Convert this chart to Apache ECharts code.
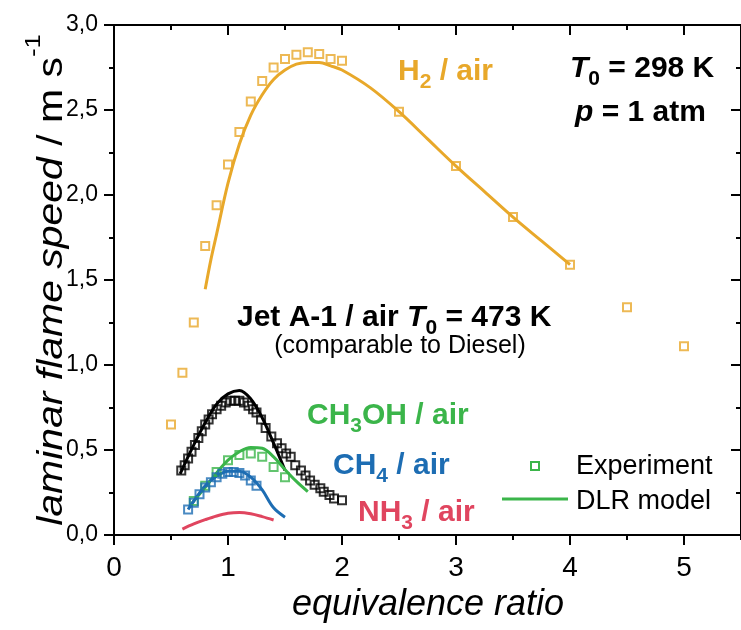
<!DOCTYPE html>
<html>
<head>
<meta charset="utf-8">
<script src="https://cdn.jsdelivr.net/npm/echarts@6/dist/echarts.min.js"></script>
<style>html,body{margin:0;padding:0;background:#fff}#c{width:741px;height:630px}</style>
</head>
<body>
<div id="c"></div>
<script>
// ---- data ----
const h2ExpPhi = [0.5, 0.6, 0.7, 0.8, 0.9, 1.0, 1.1, 1.2, 1.3, 1.4, 1.5, 1.6, 1.7, 1.8, 1.9, 2.0, 2.5, 3.0, 3.5, 4.0, 4.5, 5.0];
const h2ExpSl  = [0.65, 0.955, 1.25, 1.70, 1.94, 2.18, 2.37, 2.55, 2.67, 2.75, 2.80, 2.825, 2.84, 2.83, 2.80, 2.79, 2.49, 2.17, 1.87, 1.59, 1.34, 1.11];
const h2ModPhi = [0.8, 0.85, 0.9, 1.0, 1.1, 1.2, 1.3, 1.4, 1.5, 1.6, 1.7, 1.8, 1.9, 2.0, 2.25, 2.5, 2.75, 3.0, 3.25, 3.5, 3.75, 4.0];
const h2ModSl  = [1.445, 1.62, 1.77, 2.07, 2.30, 2.47, 2.59, 2.68, 2.735, 2.77, 2.78, 2.78, 2.76, 2.735, 2.63, 2.49, 2.33, 2.17, 2.02, 1.87, 1.73, 1.59];

const jetExpPhi = [0.59, 0.62, 0.65, 0.68, 0.71, 0.74, 0.77, 0.80, 0.83, 0.86, 0.90, 0.94, 0.98, 1.02, 1.06, 1.10, 1.14, 1.18, 1.22, 1.25, 1.29, 1.33, 1.38, 1.43, 1.47, 1.51, 1.55, 1.59, 1.64, 1.68, 1.72, 1.76, 1.81, 1.84, 1.89, 1.93, 2.00];
const jetExpSl  = [0.38, 0.41, 0.45, 0.49, 0.53, 0.57, 0.61, 0.65, 0.68, 0.71, 0.74, 0.76, 0.78, 0.79, 0.79, 0.79, 0.78, 0.76, 0.74, 0.72, 0.68, 0.63, 0.58, 0.54, 0.51, 0.48, 0.46, 0.41, 0.38, 0.35, 0.32, 0.295, 0.275, 0.255, 0.235, 0.215, 0.205];
const jetModPhi = [0.58, 0.7, 0.8, 0.9, 1.0, 1.1, 1.2, 1.3, 1.4, 1.5];
const jetModSl  = [0.36, 0.53, 0.66, 0.77, 0.83, 0.85, 0.80, 0.69, 0.54, 0.38];

const meohExpPhi = [0.7, 0.8, 0.9, 1.0, 1.1, 1.2, 1.3, 1.4, 1.5];
const meohExpSl  = [0.20, 0.29, 0.37, 0.44, 0.47, 0.48, 0.46, 0.40, 0.34];
const meohModPhi = [0.675, 0.8, 0.9, 1.0, 1.1, 1.2, 1.3, 1.4, 1.5, 1.6, 1.7];
const meohModSl  = [0.18, 0.28, 0.365, 0.44, 0.49, 0.515, 0.51, 0.46, 0.385, 0.315, 0.255];

const ch4ExpPhi = [0.65, 0.7, 0.75, 0.8, 0.85, 0.9, 0.95, 1.0, 1.05, 1.1, 1.15, 1.2, 1.25];
const ch4ExpSl  = [0.15, 0.19, 0.24, 0.28, 0.31, 0.34, 0.36, 0.37, 0.37, 0.365, 0.35, 0.32, 0.29];
const ch4ModPhi = [0.65, 0.7, 0.8, 0.9, 1.0, 1.1, 1.2, 1.3, 1.4, 1.5];
const ch4ModSl  = [0.15, 0.20, 0.29, 0.345, 0.375, 0.375, 0.34, 0.265, 0.16, 0.105];

const nh3ModPhi = [0.6, 0.7, 0.8, 0.9, 1.0, 1.1, 1.2, 1.3, 1.4];
const nh3ModSl  = [0.035, 0.065, 0.09, 0.112, 0.128, 0.133, 0.125, 0.108, 0.088];

const xMin = 0, xMax = 5.5, xMajor = 1, xMinor = 0.5;
const yMin = 0, yMax = 3, yMajor = 0.5;

// ---- styles ----
const FONT = "'Liberation Sans', Arial, Helvetica, sans-serif";
const ORANGE = '#E8A82A', GREEN = '#3BB54A', BLUE = '#1D6DB3', RED = '#E0455F', BLACK = '#000000';

const zip = (a, b) => a.map((v, i) => [v, b[i]]);

function expSeries(name, phi, sl, color) {
  return {
    name, type: 'scatter', xAxisIndex: 0, yAxisIndex: 0,
    data: zip(phi, sl), symbol: 'rect', symbolSize: 8,
    itemStyle: { color: 'rgba(255,255,255,0)', borderColor: color, borderWidth: 2 },
    emphasis: { disabled: true }, z: 3
  };
}
function modSeries(name, phi, sl, color) {
  return {
    name, type: 'line', xAxisIndex: 0, yAxisIndex: 0,
    data: zip(phi, sl), showSymbol: false, smooth: 0.35,
    lineStyle: { color, width: 3 }, itemStyle: { color },
    emphasis: { disabled: true }, z: 2
  };
}

function richSet(size, sub, weight) {
  const pad = Math.round(size * 0.5);
  return {
    b:  { fontFamily: FONT, fontSize: size, fontWeight: weight, lineHeight: size, verticalAlign: 'top' },
    bi: { fontFamily: FONT, fontSize: size, fontWeight: weight, fontStyle: 'italic', lineHeight: size, verticalAlign: 'top' },
    s:  { fontFamily: FONT, fontSize: sub, fontWeight: weight, lineHeight: sub, verticalAlign: 'top', padding: [pad, 0, 0, 0] }
  };
}
function label(x, y, text, color, opts) {
  opts = opts || {};
  return {
    type: 'text', x, y, z: 10,
    style: {
      text, fill: color, textAlign: opts.align || 'left', textVerticalAlign: 'middle',
      font: opts.font || ('bold 30px ' + FONT),
      rich: opts.rich || richSet(30, 21, 'bold')
    }
  };
}

const axisLineStyle = { color: BLACK, width: 2 };
const tickStyle = { color: BLACK, width: 2 };
const fmt = v => v.toFixed(1).replace('.', ',');

const option = {
  animation: false,
  backgroundColor: '#ffffff',
  grid: { left: 114, top: 25, width: 632.5, height: 510, containLabel: false },
  xAxis: [
    { type: 'value', position: 'bottom', min: xMin, max: xMax, interval: xMajor,
      axisLine: { show: true, onZero: false, lineStyle: axisLineStyle },
      axisTick: { show: true, inside: false, length: 10, lineStyle: tickStyle },
      axisLabel: { show: true, fontFamily: FONT, fontSize: 28, color: BLACK, margin: 19, showMaxLabel: false },
      splitLine: { show: false } },
    { type: 'value', position: 'bottom', min: xMin, max: xMax, interval: xMinor,
      axisLine: { show: false, onZero: false },
      axisTick: { show: true, inside: false, length: 5, lineStyle: tickStyle },
      axisLabel: { show: false }, splitLine: { show: false } },
    { type: 'value', position: 'top', min: xMin, max: xMax, interval: xMajor,
      axisLine: { show: true, onZero: false, lineStyle: axisLineStyle },
      axisTick: { show: true, inside: true, length: 10, lineStyle: tickStyle },
      axisLabel: { show: false }, splitLine: { show: false } },
    { type: 'value', position: 'top', min: xMin, max: xMax, interval: xMinor,
      axisLine: { show: false, onZero: false },
      axisTick: { show: true, inside: true, length: 5, lineStyle: tickStyle },
      axisLabel: { show: false }, splitLine: { show: false } }
  ],
  yAxis: [
    { type: 'value', position: 'left', min: yMin, max: yMax, interval: yMajor,
      axisLine: { show: true, onZero: false, lineStyle: axisLineStyle },
      axisTick: { show: true, inside: false, length: 10, lineStyle: tickStyle },
      minorTick: { show: true, splitNumber: 2, length: 5, lineStyle: tickStyle },
      axisLabel: { show: true, fontFamily: FONT, fontSize: 23, color: BLACK, margin: 16, formatter: fmt },
      splitLine: { show: false }, minorSplitLine: { show: false } },
    { type: 'value', position: 'right', min: yMin, max: yMax, interval: yMajor,
      axisLine: { show: true, onZero: false, lineStyle: axisLineStyle },
      axisTick: { show: true, inside: true, length: 10, lineStyle: tickStyle },
      minorTick: { show: true, splitNumber: 2, length: 5, lineStyle: tickStyle },
      axisLabel: { show: false }, splitLine: { show: false }, minorSplitLine: { show: false } }
  ],
  series: [
    modSeries('H2 model', h2ModPhi, h2ModSl, ORANGE),
    expSeries('H2 exp', h2ExpPhi, h2ExpSl, ORANGE),
    modSeries('Jet model', jetModPhi, jetModSl, BLACK),
    expSeries('Jet exp', jetExpPhi, jetExpSl, BLACK),
    modSeries('CH3OH model', meohModPhi, meohModSl, GREEN),
    expSeries('CH3OH exp', meohExpPhi, meohExpSl, GREEN),
    modSeries('CH4 model', ch4ModPhi, ch4ModSl, BLUE),
    expSeries('CH4 exp', ch4ExpPhi, ch4ExpSl, BLUE),
    modSeries('NH3 model', nh3ModPhi, nh3ModSl, RED)
  ],
  graphic: [
    label(398, 72, '{b|H}{s|2}{b| / air}', ORANGE),
    label(570, 69, '{bi|T}{s|0}{b| = 298 K}', BLACK),
    label(575, 113, '{bi|p}{b| = 1 atm}', BLACK),
    label(237, 318, '{b|Jet A-1 / air }{bi|T}{s|0}{b| = 473 K}', BLACK),
    label(400, 346, '(comparable to Diesel)', BLACK, { align: 'center', font: '25px ' + FONT, rich: {} }),
    label(307, 416, '{b|CH}{s|3}{b|OH / air}', GREEN),
    label(333, 466, '{b|CH}{s|4}{b| / air}', BLUE),
    label(358, 513, '{b|NH}{s|3}{b| / air}', RED),
    // legend
    { type: 'rect', z: 10, shape: { x: 531, y: 462, width: 8, height: 8 },
      style: { fill: 'rgba(255,255,255,0)', stroke: GREEN, lineWidth: 2 } },
    label(576, 467, 'Experiment', BLACK, { font: '27px ' + FONT, rich: {} }),
    { type: 'line', z: 10, shape: { x1: 502, y1: 499, x2: 568, y2: 499 },
      style: { stroke: GREEN, lineWidth: 3 } },
    label(576, 502, 'DLR model', BLACK, { font: '27px ' + FONT, rich: {} }),
    // axis titles
    label(428, 605, 'equivalence ratio', BLACK, { align: 'center', font: 'italic 36px ' + FONT, rich: {} }),
    { type: 'text', x: 40, y: 280, rotation: Math.PI / 2, scaleX: 1.17, z: 10,
      style: {
        text: '{i|laminar flame speed}{n| / m s}{u|-1}', fill: BLACK,
        textAlign: 'center', textVerticalAlign: 'middle',
        rich: {
          i: { fontFamily: FONT, fontSize: 35, fontStyle: 'italic', lineHeight: 35, verticalAlign: 'top', padding: [12, 0, 0, 0] },
          n: { fontFamily: FONT, fontSize: 35, lineHeight: 35, verticalAlign: 'top', padding: [12, 0, 0, 0] },
          u: { fontFamily: FONT, fontSize: 22, lineHeight: 22, verticalAlign: 'top' }
        }
      } }
  ]
};

const chart = echarts.init(document.getElementById('c'), null, { renderer: 'canvas' });
chart.setOption(option);
</script>
</body>
</html>
